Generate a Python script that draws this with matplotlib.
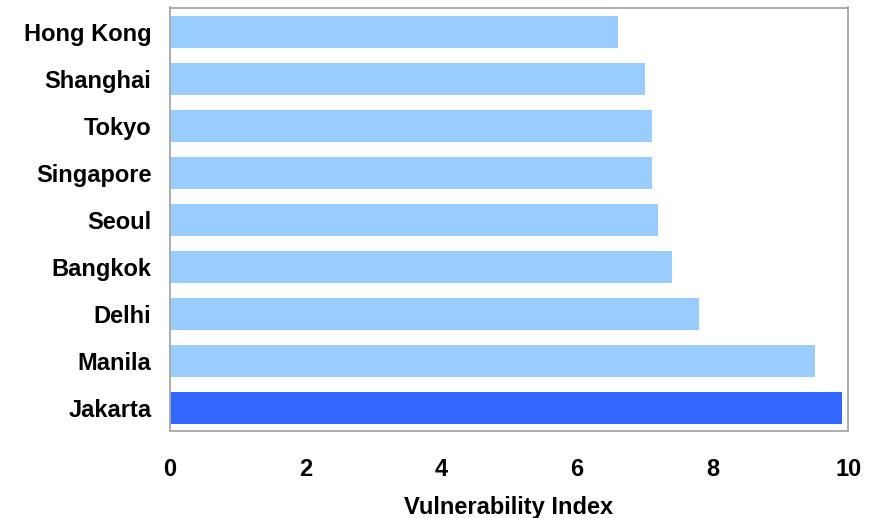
import matplotlib
matplotlib.use('Agg')
import matplotlib.pyplot as plt
import numpy as np

cities = ['Hong Kong', 'Shanghai', 'Tokyo', 'Singapore', 'Seoul',
          'Bangkok', 'Delhi', 'Manila', 'Jakarta']
index_values = [6.6, 7.0, 7.1, 7.1, 7.2, 7.4, 7.8, 9.5, 9.9]
x_ticks = [0, 2, 4, 6, 8, 10]

plt.rcParams['font.family'] = ['Liberation Sans', 'DejaVu Sans']
plt.rcParams['font.weight'] = 'bold'

fig = plt.figure(figsize=(8.79, 5.18), dpi=100)
ax = fig.add_axes([169.5 / 879, 1 - 430.5 / 518, 679 / 879, 423 / 518])

y = np.arange(len(cities))
colors = ['#99ccff'] * (len(cities) - 1) + ['#3366ff']
ax.barh(y, index_values, height=0.68, color=colors)

ax.set_xlim(0, 10)
ax.set_ylim(8.48, -0.52)
ax.set_yticks(y)
ax.set_yticklabels(cities, fontsize=17, fontweight='bold')
ax.set_xticks(x_ticks)
ax.set_xticklabels([str(t) for t in x_ticks], fontsize=17, fontweight='bold')
ax.tick_params(axis='both', length=0)
ax.tick_params(axis='y', pad=13)
ax.tick_params(axis='x', pad=19.5)
ax.set_xlabel('Vulnerability Index', fontsize=17, fontweight='bold', labelpad=11)

for s in ax.spines.values():
    s.set_color('#a6a6a6')
    s.set_linewidth(1.3)

fig.savefig('out.png', dpi=100)
